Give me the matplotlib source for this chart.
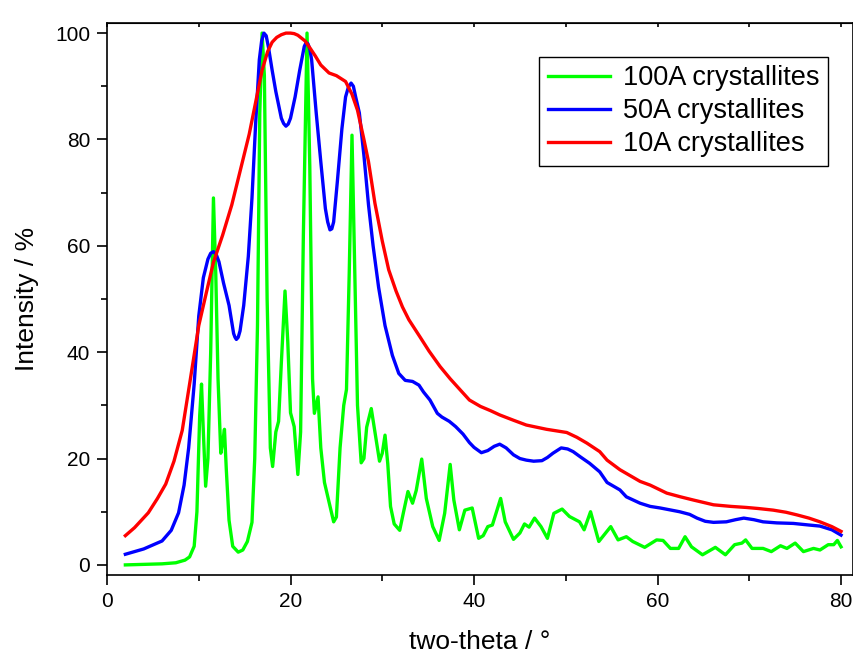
import numpy as np
import matplotlib.pyplot as plt
from matplotlib.ticker import MultipleLocator

plt.rcParams['font.family'] = ['Liberation Sans', 'DejaVu Sans']

# 100A crystallites
x100 = [2.0, 4.0, 6.0, 7.5, 8.5, 9.0, 9.5, 9.8, 10.1, 10.3, 10.5, 10.75, 11.0, 11.3,
        11.6, 11.85, 12.1, 12.4, 12.6, 12.8, 13.0, 13.3, 13.7, 14.3, 14.8, 15.3, 15.8,
        16.1, 16.4, 16.65, 16.9, 17.15, 17.45, 17.8, 18.05, 18.4, 18.7, 19.0, 19.4,
        19.7, 20.0, 20.4, 20.8, 21.1, 21.4, 21.8, 22.1, 22.4, 22.6, 23.0, 23.3, 23.7,
        24.2, 24.7, 25.0, 25.4, 25.8, 26.1, 26.4, 26.7, 27.0, 27.3, 27.7, 28.0, 28.3,
        28.8, 29.3, 29.7, 30.0, 30.3, 30.6, 30.9, 31.3, 31.9, 32.3, 32.8, 33.3, 33.7,
        34.3, 34.8, 35.5, 36.2, 36.8, 37.4, 37.8, 38.4, 39.0, 39.8, 40.5, 41.0, 41.5,
        42.0, 42.9, 43.4, 44.3, 45.0, 45.5, 46.0, 46.6, 47.3, 48.0, 48.7, 49.6, 50.4,
        51.5, 52.0, 52.7, 53.6, 54.9, 55.7, 56.6, 57.3, 58.6, 59.9, 60.6, 61.4, 62.3,
        63.0, 63.7, 64.9, 66.3, 67.4, 68.4, 69.2, 69.6, 70.3, 71.5, 72.4, 73.4, 74.1,
        75.0, 75.9, 77.0, 77.7, 78.6, 79.2, 79.6, 80.0]
y100 = [0.0, 0.1, 0.2, 0.4, 0.9, 1.5, 3.5, 10, 28, 34, 25, 14.8, 20, 40,
        69, 55, 35, 21, 23, 25.5, 18, 8.4, 3.5, 2.4, 2.8, 4.4, 8,
        20, 45, 85, 100, 92, 50, 22, 18.5, 25, 27, 38, 51.5,
        42, 28.6, 26, 17, 25, 62, 100, 75, 35, 28.5, 31.6, 22, 15.5,
        11.8, 8.1, 9, 22, 30, 33, 55, 80.8, 55, 30, 19.2, 20, 25.9,
        29.4, 23.9, 19.5, 21, 24.4, 19, 11, 7.7, 6.5, 9.8, 13.8, 11.6, 14,
        19.9, 12.5, 7.2, 4.6, 9.7, 18.9, 12.2, 6.6, 10.3, 10.7, 5.0, 5.5, 7.2,
        7.5, 12.5, 8.1, 4.8, 6, 7.7, 7.1, 8.8, 7.2, 5.0, 9.7, 10.5, 9.1,
        8.1, 6.6, 10, 4.4, 7.2, 4.7, 5.3, 4.4, 3.3, 4.7, 4.6, 3.1, 3.1,
        5.3, 3.4, 1.9, 3.3, 1.9, 3.8, 4.1, 4.7, 3.1, 3.1, 2.5, 3.6, 3.1,
        4.1, 2.5, 3.1, 2.8, 3.8, 3.8, 4.6, 3.4]

# 50A crystallites
x50 = [2, 4, 6, 7, 7.8, 8.4, 8.9, 9.5, 10, 10.5, 11.0, 11.3, 11.6, 11.9, 12.2, 12.7,
       13.3, 13.8, 13.95, 14.1, 14.3, 14.5, 14.9, 15.4, 15.8, 16.2, 16.6, 16.85, 17.1,
       17.35, 17.6, 18.0, 18.4, 19.0, 19.25, 19.5, 19.75, 20.0, 20.5, 21.0, 21.5, 21.7,
       21.9, 22.1, 22.3, 22.8, 23.3, 23.8, 24.05, 24.3, 24.5, 24.7, 25.1, 25.6, 26.0,
       26.3, 26.6, 26.85, 27.1, 27.5, 28.0, 28.5, 29.0, 29.6, 30.3, 31.1, 31.8, 32.5,
       33.3, 34.0, 34.5, 35.2, 36.0, 36.5, 37.3, 38.0, 38.8, 39.5, 40.0, 40.8, 41.5,
       42.2, 42.8, 43.5, 44.3, 45.0, 45.7, 46.5, 47.4, 48.0, 48.6, 49.5, 50.2, 50.8,
       51.6, 52.6, 53.7, 54.5, 55.9, 56.6, 58.1, 59.2, 60.3, 62.4, 63.5, 64.3, 65.2,
       66.1, 67.5, 68.5, 69.4, 70.5, 71.5, 73, 74.8, 76.5, 77.7, 79.0, 80.0]
y50 = [2.0, 3.0, 4.5, 6.5, 9.8, 15, 22, 34, 46.8, 54, 57.5, 58.6, 58.9, 58.4, 57, 53,
       48.8, 43.5, 42.8, 42.4, 42.8, 44, 48.8, 58, 69, 83, 95, 98.5, 100,
       99.5, 97.3, 93, 89, 84, 83, 82.5, 82.9, 84, 88, 93, 97.5, 98.2,
       98, 97, 95, 85, 75.8, 67, 64.5, 63, 63.2, 64.5, 72, 82, 88,
       89.8, 90.6, 90, 88, 85, 77, 67.7, 60, 52.2, 45, 39.4, 36, 34.7,
       34.5, 33.8, 32.5, 31, 28.5, 27.8, 27.0, 26, 24.6, 23, 22.1, 21.1, 21.5,
       22.3, 22.7, 22, 20.7, 20, 19.7, 19.5, 19.6, 20.2, 21, 22, 21.8, 21.3,
       20.3, 19.1, 17.5, 15.5, 14.1, 12.8, 11.6, 11, 10.7, 10, 9.5, 8.8, 8.2,
       8, 8.1, 8.5, 8.8, 8.5, 8.1, 7.9, 7.8, 7.5, 7.3, 6.6, 5.6]

# 10A crystallites
x10 = [2, 3, 4.5, 5.5, 6.4, 7.3, 8.2, 9.0, 10, 10.8, 11.6, 12.6, 13.6, 14.5, 15.5,
       16.2, 16.9, 17.5, 18.0, 18.5, 19.0, 19.5, 20.0, 20.4, 20.8, 21.6, 22.2, 22.7,
       23.3, 24.2, 25, 26, 26.7, 27.3, 28.0, 28.5, 29.2, 30.0, 30.7, 31.5, 32.2, 32.9,
       34.1, 35.1, 36.3, 37.4, 38.5, 39.5, 40.7, 41.8, 42.8, 44.3, 45.7, 47.9, 50.1,
       51.2, 52.3, 53.7, 54.5, 55.9, 56.6, 58.1, 59.2, 61.0, 62.5, 63.9, 66.1, 68.0,
       69.7, 71, 72.6, 74, 75.2, 76.5, 77.7, 79, 80]
y10 = [5.5, 7, 9.8, 12.5, 15.2, 19.5, 25.3, 34, 45, 51, 56.9, 62, 67.7, 74, 81,
       87, 93, 96.5, 98.3, 99.2, 99.7, 100, 100, 99.9, 99.6, 98.5, 97, 95.7,
       94, 92.5, 92, 90.9, 88.5, 85.5, 80, 75.8, 68, 60.9, 55.5, 51.5, 48.5, 46.1,
       42.9, 40.2, 37.3, 35, 32.9, 31, 29.8, 29, 28.2, 27.2, 26.3, 25.5, 24.9,
       24, 22.9, 21.3, 19.7, 17.9, 17.2, 15.7, 15, 13.5, 12.8, 12.2, 11.3, 11,
       10.8, 10.6, 10.3, 9.9, 9.4, 8.8, 8.1, 7.2, 6.3]

fig = plt.figure(figsize=(8.54, 6.57), dpi=100)
ax = fig.add_axes([0.1253, 0.1248, 0.8735, 0.8402])

lw = 2.4
ax.plot(x100, y100, color='#00ff00', lw=lw, label='100A crystallites')
ax.plot(x50, y50, color='#0000ff', lw=lw, label='50A crystallites')
ax.plot(x10, y10, color='#ff0000', lw=lw, label='10A crystallites')

ax.set_xlim(0, 81.3)
ax.set_ylim(-1.9, 101.9)
ax.xaxis.set_major_locator(MultipleLocator(20))
ax.xaxis.set_minor_locator(MultipleLocator(10))
ax.yaxis.set_major_locator(MultipleLocator(20))
ax.yaxis.set_minor_locator(MultipleLocator(10))

for s in ax.spines.values():
    s.set_linewidth(1.2)

ax.tick_params(which='both', direction='out', width=1.2, labelsize=15, pad=5,
               top=False, right=False)
ax.tick_params(which='major', length=7)
ax.tick_params(which='minor', length=4)

# short inward ticks along the top
top = ax.secondary_xaxis('top')
top.xaxis.set_major_locator(MultipleLocator(10))
top.tick_params(direction='in', length=3, width=1.2, labeltop=False)

ax.set_xlabel('two-theta / °', fontsize=19, labelpad=14)
ax.set_ylabel('Intensity / %', fontsize=19, labelpad=12)

leg = ax.legend(loc='upper right', bbox_to_anchor=(0.9665, 0.938), borderaxespad=0,
                fontsize=19.5, fancybox=False, edgecolor='black', framealpha=1,
                handlelength=2.3, labelspacing=0.26, borderpad=0.3, handletextpad=0.5)
leg.get_frame().set_linewidth(1.0)

fig.savefig('out.png', dpi=100)
